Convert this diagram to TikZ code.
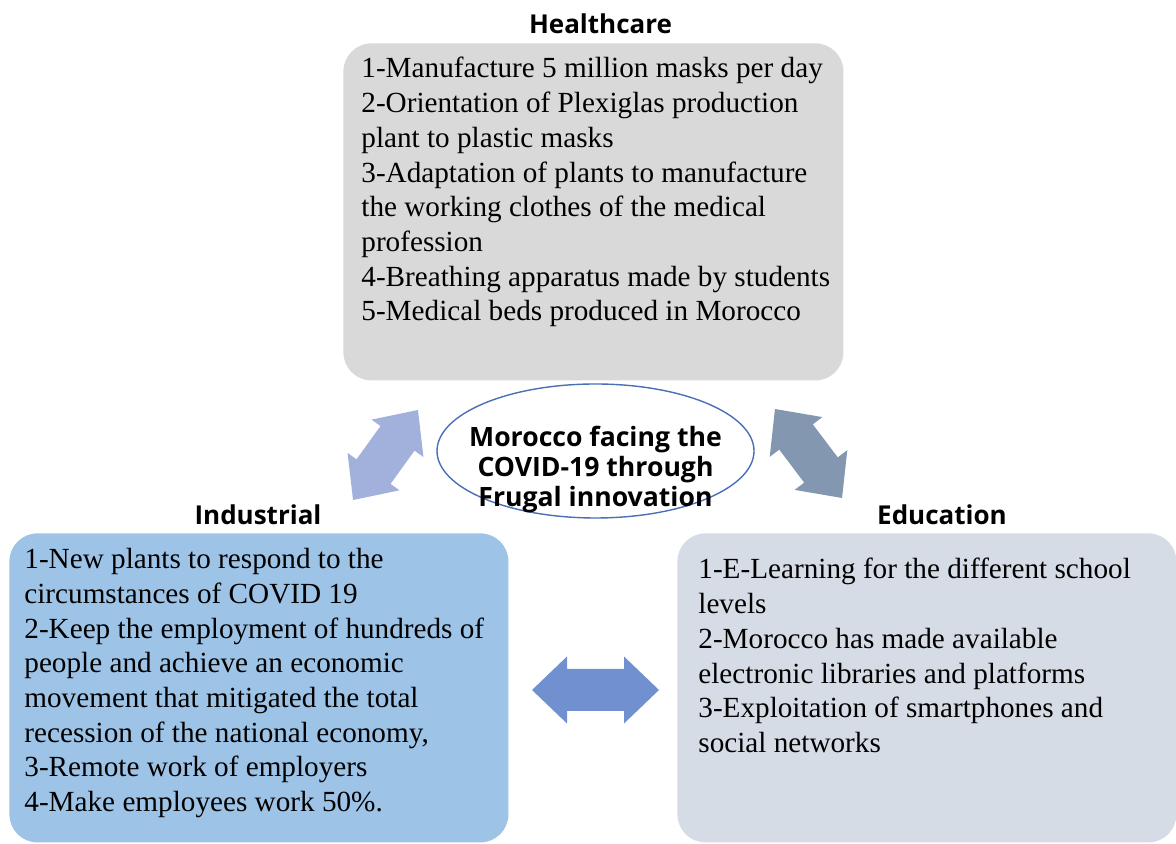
\documentclass[tikz,border=0pt]{standalone}
\usepackage{fontspec}
\setmainfont{Liberation Serif}
\newfontfamily\headfont{Open Sans}
\usetikzlibrary{positioning, shapes.geometric}

\definecolor{careGray}{HTML}{D9D9D9}
\definecolor{indBlue}{HTML}{9DC3E6}
\definecolor{eduGray}{HTML}{D6DCE5}
\definecolor{hubLine}{HTML}{4A6FB5}
\definecolor{arrowLeft}{HTML}{A2B1DB}
\definecolor{arrowRight}{HTML}{8497B0}
\definecolor{arrowMid}{HTML}{7090CF}

\tikzset{
  pics/blockarrow/.style args={#1/#2/#3/#4}{code={
    % #1 half length, #2 head half width, #3 shaft half width, #4 head length
    \fill (-#1,0) -- (-#1+#4,#2) -- (-#1+#4,#3) -- (#1-#4,#3) -- (#1-#4,#2)
      -- (#1,0) -- (#1-#4,-#2) -- (#1-#4,-#3) -- (-#1+#4,-#3) -- (-#1+#4,-#2) -- cycle;
  }}
}

\begin{document}
\begin{tikzpicture}[x=0.5pt, y=0.5pt]
    % Styles
    \tikzstyle{panel} = [rectangle, rounded corners=14pt, inner sep=0pt, anchor=north west]
    \tikzstyle{itemlist} = [anchor=north west, inner sep=0pt, align=left, font=\fontsize{14.6}{17.35}\selectfont]
    \tikzstyle{heading} = [anchor=base, inner sep=0pt, font=\headfont\bfseries\fontsize{13}{15}\selectfont]

    \useasboundingbox (0,0) rectangle (1176,844);
    \clip (0,0) rectangle (1176,844);

    % Panels
    \node[panel, fill=careGray, minimum width=250pt, minimum height=168.5pt] (care) at (343,801) {};
    \node[panel, fill=indBlue, minimum width=249.5pt, minimum height=154.5pt] (ind) at (9,311) {};
    \node[panel, fill=eduGray, minimum width=249.5pt, minimum height=154.5pt] (edu) at (677,311) {};

    % Headings
    \node[heading] (careTitle) at (600.5,810) {Healthcare};
    \node[heading] (indTitle) at (258,319) {Industrial};
    \node[heading] (eduTitle) at (942,319) {Education};

    % Lists
    \node[itemlist] (careList) at (361,787) {1-Manufacture 5 million masks per day\\
        2-Orientation of Plexiglas production\\ plant to plastic masks\\
        3-Adaptation of plants to manufacture\\ the working clothes of the medical\\ profession\\
        4-Breathing apparatus made by students\\
        5-Medical beds produced in Morocco};
    \node[itemlist] (indList) at (24,296) {1-New plants to respond to the\\ circumstances of COVID 19\\
        2-Keep the employment of hundreds of\\ people and achieve an economic\\
        movement that mitigated the total\\ recession of the national economy,\\
        3-Remote work of employers\\
        4-Make employees work 50\%.};
    \node[itemlist] (eduList) at (698,286) {1-E-Learning for the different school\\ levels\\
        2-Morocco has made available\\ electronic libraries and platforms\\
        3-Exploitation of smartphones and\\ social networks};

    % Centre
    \node[ellipse, draw=hubLine, line width=0.7pt, fill=white, minimum width=158.5pt, minimum height=67pt, inner sep=0pt] (hub) at (595.5,393) {};
    \node[align=center, inner sep=0pt, font=\headfont\bfseries\fontsize{13.3}{15}\selectfont] (hubText) at ([yshift=-9.5pt]hub.center) {Morocco facing the\\ COVID-19 through\\ Frugal innovation};

    % Block arrows
    \pic[fill=arrowLeft, rotate=54.2] at (385.5,389) {blockarrow={55.5/32/21/35}};
    \pic[fill=arrowRight, rotate=-53] at (808.5,390.5) {blockarrow={55.7/33/21/35}};
    \pic[fill=arrowMid] at (595.5,154) {blockarrow={63.5/33.5/21/35}};
\end{tikzpicture}
\end{document}
